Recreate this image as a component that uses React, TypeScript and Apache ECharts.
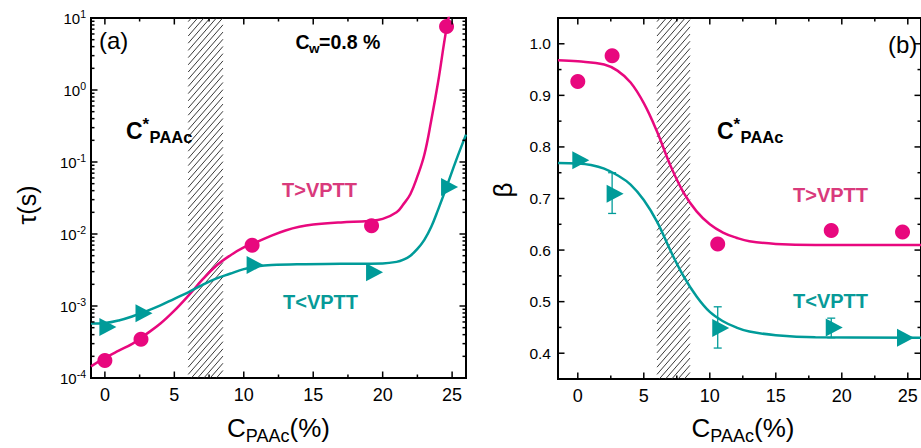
import React, { useEffect, useRef } from 'react';
import * as echarts from 'echarts';

const FONT = '"Liberation Sans", Arial, Helvetica, sans-serif';
const PINK = '#E8087E';
const TEAL = '#009B99';
const PINK_LABEL = '#D93A7C';
const TEAL_LABEL = '#079A98';

// PAAc concentrations of the measured samples (%)
const concPoints = [0, 2.6, 10.6, 19.2, 24.6];

// (a) relaxation time τ (s)
const tauAbove = [1.75e-4, 3.45e-4, 7.0e-3, 1.3e-2, 7.6];
const tauBelow = [5.1e-4, 7.9e-4, 3.7e-3, 2.95e-3, 4.5e-2];

// (a) guide curves through the data
const tauAboveCurve: [number, number][] = [
  [-1, 1.45e-4], [0, 1.9e-4], [1, 2.4e-4], [2, 3.0e-4], [3, 4.1e-4], [4, 5.7e-4],
  [5, 8.6e-4], [6, 1.38e-3], [7, 2.3e-3], [8, 3.6e-3], [9, 5.0e-3], [10, 6.5e-3],
  [11, 7.8e-3], [12, 9.5e-3], [13, 1.12e-2], [14, 1.26e-2], [15, 1.35e-2], [17, 1.45e-2],
  [19, 1.52e-2], [20, 1.62e-2], [21, 2.0e-2], [21.5, 2.6e-2], [22, 3.6e-2], [22.5, 6.3e-2],
  [23, 0.126], [23.5, 0.38], [24, 1.32], [24.6, 7.2], [25.1, 20],
];
const tauBelowCurve: [number, number][] = [
  [-1, 5.7e-4], [0, 5.8e-4], [1, 6.3e-4], [2, 7.2e-4], [3, 8.5e-4], [4, 1.02e-3],
  [5, 1.26e-3], [6, 1.55e-3], [7, 1.95e-3], [8, 2.4e-3], [9, 2.8e-3], [10, 3.25e-3],
  [11, 3.55e-3], [12, 3.7e-3], [14, 3.8e-3], [17, 3.85e-3], [20, 3.9e-3], [21, 4.1e-3],
  [21.5, 4.4e-3], [22, 5.0e-3], [22.5, 6.2e-3], [23, 8.3e-3], [23.5, 1.26e-2], [24, 2.2e-2],
  [24.6, 4.5e-2], [25.3, 0.107], [26, 0.24],
];

// (b) stretching exponent β
const betaAbove = [0.927, 0.977, 0.612, 0.638, 0.635];
const betaBelow = [0.774, 0.709, 0.449, 0.45, 0.43];
const betaBelowErr: [number, number, number][] = [
  [2.6, 0.671, 0.75], [10.6, 0.41, 0.49], [19.2, 0.43, 0.468],
];
const betaAboveCurve: [number, number][] = [
  [-1.5, 0.968], [0, 0.966], [2, 0.96], [3, 0.948], [4, 0.925], [5, 0.885], [6, 0.83],
  [7, 0.765], [8, 0.712], [9, 0.675], [10, 0.65], [11, 0.634], [12, 0.624], [13, 0.617],
  [15, 0.612], [18, 0.61], [26, 0.61],
];
const betaBelowCurve: [number, number][] = [
  [-1.5, 0.769], [0, 0.768], [1, 0.765], [2, 0.758], [3, 0.745], [4, 0.727], [5, 0.697],
  [6, 0.655], [7, 0.6], [8, 0.55], [9, 0.51], [10, 0.48], [11, 0.462], [12, 0.45],
  [13, 0.442], [15, 0.435], [18, 0.431], [26, 0.43],
];

// C*_PAAc crossover band
const crossoverBand = [6, 8.5];

// tick positions
const xMajorTicks = [0, 5, 10, 15, 20, 25];
const xMinorTicks = [2.5, 7.5, 12.5, 17.5, 22.5];
const tauMajorTicks = [1e-3, 1e-2, 1e-1, 1];
const tauMinorTicks: number[] = [];
for (let e = -4; e <= 0; e++) for (let m = 2; m <= 9; m++) tauMinorTicks.push(m * Math.pow(10, e));
const betaMajorTicks = [0.4, 0.5, 0.6, 0.7, 0.8, 0.9, 1.0];
const betaMinorTicks = [0.45, 0.55, 0.65, 0.75, 0.85, 0.95];

const TRIANGLE = 'path://M0,0L14,8L0,16Z';

function zip(xs: number[], ys: number[]) {
  return xs.map((x, i) => [x, ys[i]]);
}

function frameTicks(xMaj: number[], xMin: number[], yMaj: number[], yMin: number[]) {
  return (params: any, api: any) => {
    const cs = params.coordSys;
    const L = cs.x, R = cs.x + cs.width, T = cs.y, B = cs.y + cs.height;
    const xRef = api.value(0), yRef = api.value(1);
    const kids: any[] = [];
    const seg = (x1: number, y1: number, x2: number, y2: number) =>
      kids.push({ type: 'line', shape: { x1, y1, x2, y2 }, style: { stroke: '#000', lineWidth: 1.5 } });
    const xt = (vals: number[], len: number) => vals.forEach((v) => {
      const x = api.coord([v, yRef])[0];
      if (x < L - 0.5 || x > R + 0.5) return;
      seg(x, B, x, B - len); seg(x, T, x, T + len);
    });
    const yt = (vals: number[], len: number) => vals.forEach((v) => {
      const y = api.coord([xRef, v])[1];
      if (y < T - 0.5 || y > B + 0.5) return;
      seg(L, y, L + len, y); seg(R, y, R - len, y);
    });
    xt(xMaj, 6.5); xt(xMin, 3.5); yt(yMaj, 6.5); yt(yMin, 3.5);
    return { type: 'group', children: kids };
  };
}

function hatch(params: any, api: any) {
  const cs = params.coordSys;
  const T = cs.y, B = cs.y + cs.height;
  const yRef = api.value(2);
  const xa = api.coord([api.value(0), yRef])[0];
  const xb = api.coord([api.value(1), yRef])[0];
  const k = 1.15, step = 7.2;
  const kids: any[] = [];
  for (let c = T + k * xa + step / 2; c <= B + k * xb; c += step) {
    const x1 = Math.max(xa, (c - B) / k);
    const x2 = Math.min(xb, (c - T) / k);
    if (x2 <= x1) continue;
    kids.push({ type: 'line', shape: { x1, y1: c - k * x1, x2, y2: c - k * x2 }, style: { stroke: '#222', lineWidth: 0.9 } });
  }
  return { type: 'group', children: kids };
}

function errorBars(params: any, api: any) {
  const x = api.coord([api.value(0), api.value(1)])[0];
  const yLo = api.coord([api.value(0), api.value(1)])[1];
  const yHi = api.coord([api.value(0), api.value(2)])[1];
  const st = { stroke: TEAL, lineWidth: 1.3 };
  return {
    type: 'group',
    children: [
      { type: 'line', shape: { x1: x, y1: yLo, x2: x, y2: yHi }, style: st },
      { type: 'line', shape: { x1: x - 4, y1: yLo, x2: x + 4, y2: yLo }, style: st },
      { type: 'line', shape: { x1: x - 4, y1: yHi, x2: x + 4, y2: yHi }, style: st },
    ],
  };
}

function txt(text: string, x: number, y: number, size: number, extra: any = {}) {
  const { rotation, ...style } = extra;
  return {
    type: 'text', x, y, rotation: rotation || 0, silent: true, z: 20,
    style: {
      text, fontSize: size, fontFamily: FONT, fill: '#000',
      textAlign: 'left', align: 'left', textVerticalAlign: 'middle', verticalAlign: 'middle',
      ...style,
    },
  };
}

function axisTitle(cx: number) {
  return {
    type: 'text', x: cx, y: 411, silent: true, z: 20,
    style: {
      text: '{c|C}{s|PAAc}{c|(%)}', textAlign: 'center', align: 'center',
      textVerticalAlign: 'top', verticalAlign: 'top', fill: '#000',
      rich: {
        c: { fontSize: 26, lineHeight: 34, fontFamily: FONT, fill: '#000', color: '#000' },
        s: { fontSize: 18, lineHeight: 16, verticalAlign: 'bottom', fontFamily: FONT, fill: '#000', color: '#000' },
      },
    },
  };
}

// "C*" with the PAAc subscript following the asterisk
function cStar(x: number) {
  const bold = { fontFamily: FONT, fontWeight: 'bold', fill: '#000', color: '#000' };
  return {
    type: 'text', x, y: 115.5, silent: true, z: 20,
    style: {
      text: '{c|C}{a|*}{p|PAAc}', textAlign: 'left', align: 'left',
      textVerticalAlign: 'top', verticalAlign: 'top', fill: '#000',
      rich: {
        c: { ...bold, fontSize: 23, lineHeight: 30 },
        a: { ...bold, fontSize: 17, lineHeight: 26, verticalAlign: 'top', width: 7 },
        p: { ...bold, fontSize: 16.5, lineHeight: 12, verticalAlign: 'bottom' },
      },
    },
  };
}

function buildOption(): any {
  const label = { color: '#000', fontFamily: FONT };
  const curve = (data: [number, number][], color: string, xi: number) => ({
    type: 'line', xAxisIndex: xi, yAxisIndex: xi, data, showSymbol: false, silent: true,
    smooth: 0.4, lineStyle: { color, width: 2.5 }, z: 2,
  });
  return {
    animation: false,
    textStyle: { fontFamily: FONT },
    grid: [
      { left: 91, top: 18, width: 375, height: 360, show: true, borderColor: '#000', borderWidth: 2, backgroundColor: 'transparent' },
      { left: 558, top: 18, width: 370, height: 361, show: true, borderColor: '#000', borderWidth: 2, backgroundColor: 'transparent' },
    ],
    xAxis: [
      {
        gridIndex: 0, type: 'value', min: -1, max: 26,
        axisLine: { show: false }, axisTick: { show: false }, splitLine: { show: false },
        axisLabel: { ...label, customValues: xMajorTicks, fontSize: 18, margin: 8 },
      },
      {
        gridIndex: 1, type: 'value', min: -1.5, max: 26,
        axisLine: { show: false }, axisTick: { show: false }, splitLine: { show: false },
        axisLabel: { ...label, customValues: xMajorTicks, fontSize: 18, margin: 8 },
      },
    ],
    yAxis: [
      {
        gridIndex: 0, type: 'log', logBase: 10, min: 1e-4, max: 10,
        axisLine: { show: false }, axisTick: { show: false }, splitLine: { show: false },
        minorTick: { show: false }, minorSplitLine: { show: false },
        axisLabel: {
          margin: 5,
          formatter: (v: number) => '{b|10}{s|' + Math.round(Math.log10(v)) + '}',
          rich: {
            b: { fontSize: 15, lineHeight: 20, fontFamily: FONT, color: '#000' },
            s: { fontSize: 10.5, lineHeight: 12, verticalAlign: 'top', fontFamily: FONT, color: '#000' },
          },
        },
      },
      {
        gridIndex: 1, type: 'value', min: 0.35, max: 1.05,
        axisLine: { show: false }, axisTick: { show: false }, splitLine: { show: false },
        axisLabel: { ...label, customValues: betaMajorTicks, fontSize: 15.5, margin: 7, formatter: (v: number) => v.toFixed(1) },
      },
    ],
    series: [
      // ---- panel (a)
      {
        type: 'custom', xAxisIndex: 0, yAxisIndex: 0, silent: true, z: 1,
        renderItem: hatch, encode: { x: [0, 1], y: 2 },
        data: [[crossoverBand[0], crossoverBand[1], 1e-4]],
      },
      curve(tauAboveCurve, PINK, 0),
      curve(tauBelowCurve, TEAL, 0),
      {
        type: 'scatter', xAxisIndex: 0, yAxisIndex: 0, data: zip(concPoints, tauAbove), silent: true,
        symbol: 'circle', symbolSize: 15, itemStyle: { color: PINK, opacity: 1 }, z: 3,
      },
      {
        type: 'scatter', xAxisIndex: 0, yAxisIndex: 0, data: zip(concPoints, tauBelow), silent: true,
        symbol: TRIANGLE, symbolSize: [17, 18], symbolOffset: [3, 0], itemStyle: { color: TEAL, opacity: 1 }, z: 3,
      },
      {
        type: 'custom', xAxisIndex: 0, yAxisIndex: 0, silent: true, z: 5,
        renderItem: frameTicks(xMajorTicks, xMinorTicks, tauMajorTicks, tauMinorTicks),
        data: [[0, 1e-4]],
      },
      // ---- panel (b)
      {
        type: 'custom', xAxisIndex: 1, yAxisIndex: 1, silent: true, z: 1,
        renderItem: hatch, encode: { x: [0, 1], y: 2 },
        data: [[crossoverBand[0], crossoverBand[1], 0.35]],
      },
      curve(betaAboveCurve, PINK, 1),
      curve(betaBelowCurve, TEAL, 1),
      {
        type: 'custom', xAxisIndex: 1, yAxisIndex: 1, silent: true, z: 3,
        renderItem: errorBars, encode: { x: 0, y: [1, 2] }, data: betaBelowErr,
      },
      {
        type: 'scatter', xAxisIndex: 1, yAxisIndex: 1, data: zip(concPoints, betaAbove), silent: true,
        symbol: 'circle', symbolSize: 15, itemStyle: { color: PINK, opacity: 1 }, z: 3,
      },
      {
        type: 'scatter', xAxisIndex: 1, yAxisIndex: 1, data: zip(concPoints, betaBelow), silent: true,
        symbol: TRIANGLE, symbolSize: [17, 18], symbolOffset: [3, 0], itemStyle: { color: TEAL, opacity: 1 }, z: 3,
      },
      {
        type: 'custom', xAxisIndex: 1, yAxisIndex: 1, silent: true, z: 5,
        renderItem: frameTicks(xMajorTicks, xMinorTicks, betaMajorTicks, betaMinorTicks),
        data: [[0, 0.35]],
      },
    ],
    graphic: [
      txt('(a)', 99, 40, 24),
      txt('(b)', 888, 44, 24),
      txt('C', 295.5, 42, 19.5, { fontWeight: 'bold' }),
      txt('w', 309, 48, 13.5, { fontWeight: 'bold' }),
      txt('=0.8 %', 319, 42, 19.5, { fontWeight: 'bold' }),
      cStar(126),
      cStar(717),
      txt('T>VPTT', 282, 190, 20, { fontWeight: 'bold', fill: PINK_LABEL }),
      txt('T<VPTT', 283, 302, 20, { fontWeight: 'bold', fill: TEAL_LABEL }),
      txt('T>VPTT', 793, 195, 20, { fontWeight: 'bold', fill: PINK_LABEL }),
      txt('T<VPTT', 793, 301, 20, { fontWeight: 'bold', fill: TEAL_LABEL }),
      axisTitle(278.5),
      axisTitle(743),
      txt('τ(s)', 27, 205, 25, { rotation: Math.PI / 2, textAlign: 'center', align: 'center' }),
      txt('β', 503, 190, 26, { rotation: Math.PI / 2, textAlign: 'center', align: 'center' }),
    ],
  };
}

export default function App() {
  const ref = useRef<HTMLDivElement>(null);
  useEffect(() => {
    document.body.style.margin = '0';
    const chart = echarts.init(ref.current as HTMLDivElement, null, { renderer: 'svg' });
    chart.setOption(buildOption());
    return () => chart.dispose();
  }, []);
  return <div ref={ref} style={{ width: 921, height: 448, overflow: 'hidden' }} />;
}
